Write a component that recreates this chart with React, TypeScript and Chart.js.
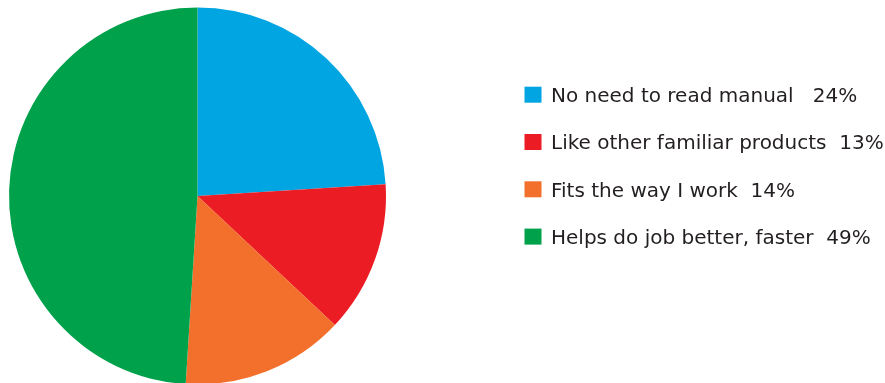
import React, { useEffect, useRef } from "react";
import { Chart, registerables } from "chart.js";

Chart.register(...registerables);

const labels = [
  "No need to read manual ",
  "Like other familiar products",
  "Fits the way I work",
  "Helps do job better, faster",
];
const values = [24, 13, 14, 49];
const colors = ["#00a5e1", "#ec1c24", "#f2702b", "#00a14b"];

const legendPlugin = {
  id: "sideLegend",
  afterDraw(chart: any) {
    const ctx = chart.ctx;
    const ds = chart.data.datasets[0];
    const x0 = 524.5;
    const firstY = 94.7;
    const step = 47.3;
    ctx.save();
    ctx.font = "20px 'DejaVu Sans'";
    ctx.textBaseline = "alphabetic";
    ctx.textAlign = "left";
    (chart.data.labels as string[]).forEach((lab, i) => {
      const cy = firstY + i * step;
      ctx.fillStyle = ds.backgroundColor[i];
      ctx.fillRect(x0, cy - 8, 17, 16);
      ctx.fillStyle = "#231f20";
      ctx.fillText(`${lab}  ${ds.data[i]}%`, 551, cy + 7.3);
    });
    ctx.restore();
  },
};

export default function App() {
  const ref = useRef<HTMLCanvasElement>(null);
  useEffect(() => {
    if (!ref.current) return;
    const chart = new Chart(ref.current, {
      type: "pie",
      data: {
        labels,
        datasets: [
          {
            data: values,
            backgroundColor: colors,
            borderWidth: 0,
          },
        ],
      },
      options: {
        responsive: false,
        animation: false,
        devicePixelRatio: 1,
        layout: { padding: { left: 9, top: 7.5, right: 499, bottom: 7.5 } },
        plugins: {
          legend: { display: false },
          tooltip: { enabled: false },
        },
      },
      plugins: [legendPlugin],
    });
    return () => chart.destroy();
  }, []);
  return (
    <div style={{ position: "fixed", left: 0, top: 0, width: 885, height: 383, overflow: "hidden", background: "#fff" }}>
      <canvas ref={ref} width={885} height={392} style={{ display: "block" }} />
    </div>
  );
}
